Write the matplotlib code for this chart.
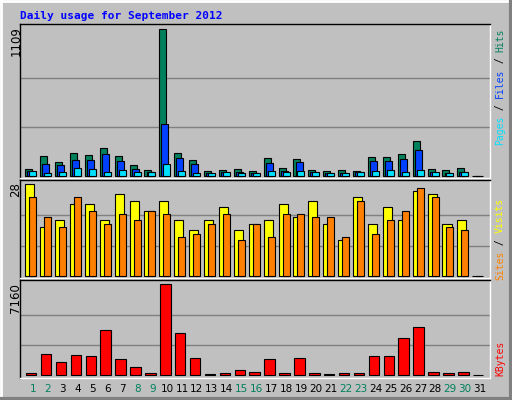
import matplotlib
matplotlib.use("Agg")
import matplotlib.pyplot as plt
from matplotlib.lines import Line2D

days = list(range(1, 32))
hits = [53,153,108,174,161,214,153,86,48,1109,174,123,40,48,55,40,138,63,131,48,40,48,40,146,146,168,267,55,48,63,0]
files = [40,93,86,123,123,168,116,55,33,395,138,93,25,33,33,25,101,40,108,33,25,25,33,116,116,131,199,33,25,33,0]
pages = [40,25,33,63,55,33,48,33,33,93,40,25,25,33,25,25,40,33,40,33,25,25,33,40,48,33,48,33,25,33,0]
sites = [28,15,17,22,22,17,25,23,20,23,17,14,17,21,14,16,17,22,18,23,16,11,24,16,21,17,26,25,16,17,0]
visits = [24,18,15,24,20,16,19,17,20,19,12,13,16,19,11,16,12,19,19,18,18,12,23,13,17,20,27,24,15,14,0]
kbytes = [157,1650,1020,1570,1490,3540,1260,630,157,7160,3300,1340,80,157,390,236,1260,157,1340,157,80,157,157,1490,1490,2910,3770,236,157,236,0]
weekend = [1,2,8,9,15,16,22,23,29,30]

W, H = 512, 400
fig = plt.figure(figsize=(5.12, 4.0), dpi=100)
fig.patch.set_facecolor('#c0c0c0')

fig.add_artist(Line2D([0,1],[1-0.5/H]*2, color='white', lw=2, transform=fig.transFigure))
fig.add_artist(Line2D([1/W]*2,[0,1], color='white', lw=2, transform=fig.transFigure))
fig.add_artist(Line2D([0,1],[1.5/H]*2, color='#808080', lw=3, transform=fig.transFigure))
fig.add_artist(Line2D([1-1.5/W]*2,[0,1], color='#808080', lw=3, transform=fig.transFigure))

def ax_at(top, bottom):
    return fig.add_axes([20/W, 1-bottom/H, 470/W, (bottom-top)/H])

x0 = 1 - 13/14.9
xlim = (x0, x0 + 470/14.9)

def style(ax, ymax, lo, hi):
    ax.set_facecolor('#c0c0c0')
    ax.set_xlim(*xlim)
    ax.set_ylim(lo, hi)
    ax.set_xticks([]); ax.set_yticks([])
    for v in (ymax/3, 2*ymax/3):
        ax.axhline(v, color='#808080', lw=1, zorder=0)
    ax.spines['left'].set_color('black'); ax.spines['top'].set_color('black')
    ax.spines['right'].set_color('white'); ax.spines['bottom'].set_color('white')
    for s in ax.spines.values(): s.set_linewidth(1)

bw = 0.47
kw = dict(align='edge', edgecolor='black', linewidth=0.8, zorder=2)

ax1 = ax_at(24, 178)
style(ax1, 1109, -12.8, 1149)
ax1.bar([d-0.52 for d in days], hits, width=bw, color='#00805c', **kw)
ax1.bar([d-0.38 for d in days], files, width=bw, color='#0040ff', **kw)
ax1.bar([d-0.25 for d in days], pages, width=bw, color='#00e0ff', **kw)

ax2 = ax_at(180, 278)
style(ax2, 28, -0.52, 29.3)
ax2.bar([d-0.52 for d in days], sites, width=0.61, color='#ffff00', **kw)
ax2.bar([d-0.25 for d in days], visits, width=bw, color='#ff8000', **kw)

ax3 = ax_at(280, 378)
style(ax3, 7160, -212, 7498)
ax3.bar([d-0.47 for d in days], kbytes, width=0.7, color='#ff0000', **kw)

mono = 'DejaVu Sans Mono'
fig.text(20/W, 1-19/H, 'Daily usage for September 2012', color='#0000ff',
         family=mono, fontsize=8, fontweight='bold', va='baseline', ha='left')

for txt, top in (('1109', 26), ('28', 182), ('7160', 283)):
    fig.text(16/W, 1-top/H, txt, rotation=90, family='DejaVu Sans', fontsize=8.5,
             ha='center', va='top', color='black')

cw = 0.602*7*100/72
def right_label(parts, top):
    y = top
    for txt, col in reversed(parts):
        fig.text(500/W, 1-y/H, txt, rotation=90, family=mono, fontsize=7,
                 ha='center', va='top', color=col)
        y += len(txt)*cw
right_label([('Pages', '#00e0ff'), (' / ', 'black'), ('Files', '#0040ff'), (' / ', 'black'), ('Hits', '#00805c')], 28)
right_label([('Sites', '#ff8000'), (' / ', 'black'), ('Visits', '#ffff00')], 198)
right_label([('KBytes', '#ff0000')], 341)

for d in days:
    fig.text((33 + (d-1)*14.9)/W, 1-389/H, str(d), ha='center', va='center',
             fontsize=7.5, color='#00805c' if d in weekend else 'black')

fig.savefig('out.png', dpi=100, facecolor=fig.get_facecolor())
